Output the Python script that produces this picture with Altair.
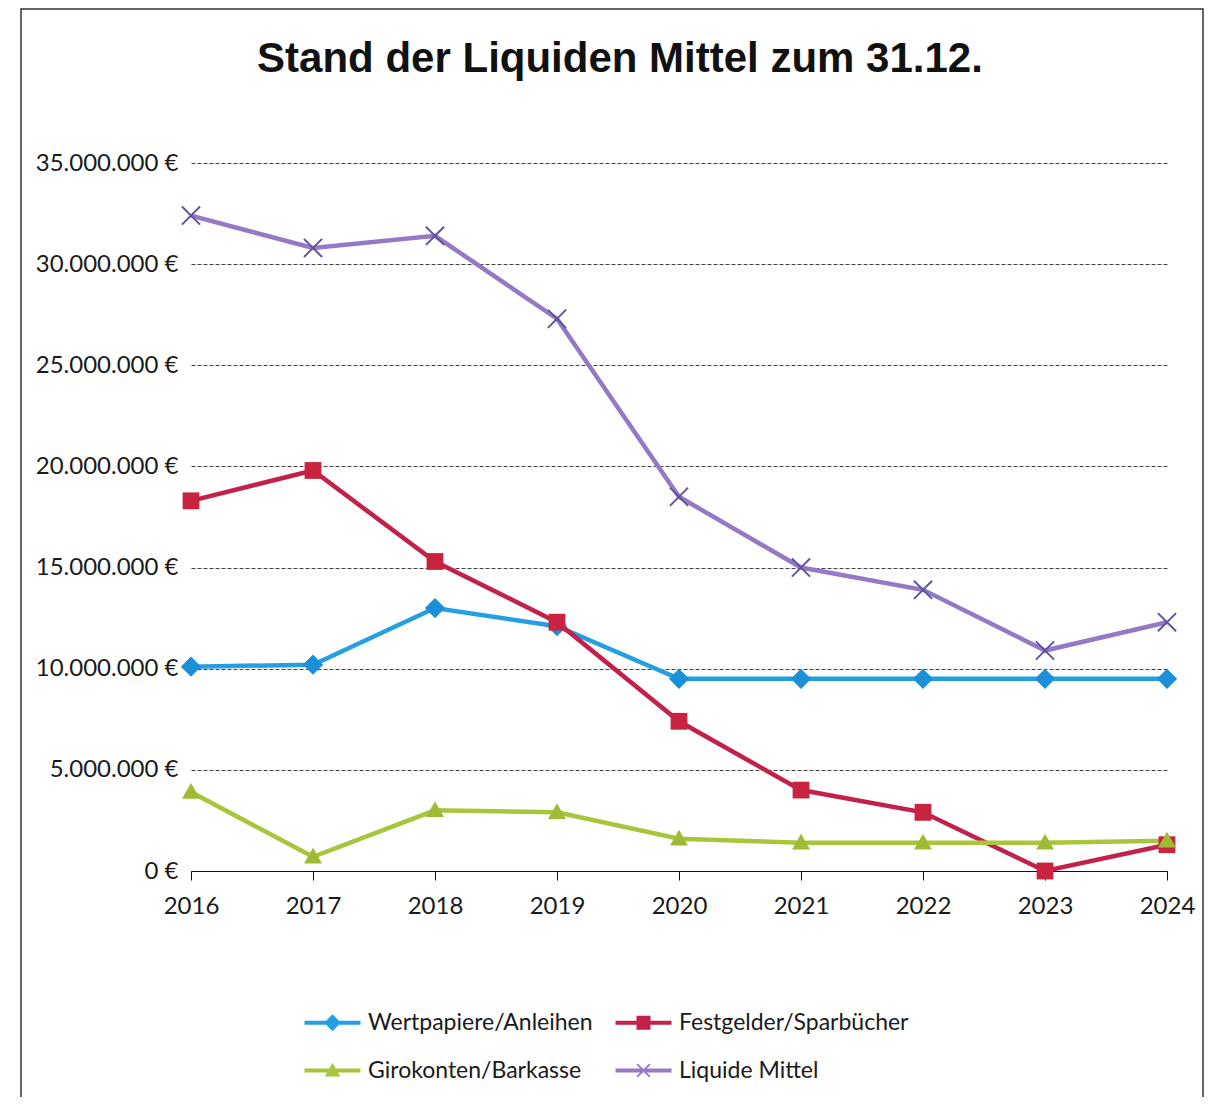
import altair as alt
import pandas as pd

years = [2016, 2017, 2018, 2019, 2020, 2021, 2022, 2023, 2024]
series = ["Wertpapiere/Anleihen", "Festgelder/Sparbücher", "Girokonten/Barkasse", "Liquide Mittel"]
wertpapiere = [10_100_000, 10_200_000, 13_000_000, 12_100_000, 9_500_000, 9_500_000, 9_500_000, 9_500_000, 9_500_000]
festgelder = [18_300_000, 19_800_000, 15_300_000, 12_300_000, 7_400_000, 4_000_000, 2_900_000, 0, 1_300_000]
girokonten = [3_900_000, 700_000, 3_000_000, 2_900_000, 1_600_000, 1_400_000, 1_400_000, 1_400_000, 1_500_000]
liquide = [32_400_000, 30_800_000, 31_400_000, 27_300_000, 18_500_000, 15_000_000, 13_900_000, 10_900_000, 12_300_000]
y_ticks = [0, 5_000_000, 10_000_000, 15_000_000, 20_000_000, 25_000_000, 30_000_000, 35_000_000]

line_colors = ["#24a0e2", "#c2214b", "#a9c53c", "#9479c6"]
marker_colors = ["#1b90d8", "#c8243f", "#9fbb35", "#5e519e"]

rows = []
for name, vals in zip(series, [wertpapiere, festgelder, girokonten, liquide]):
    for yr, v in zip(years, vals):
        rows.append({"Jahr": yr, "Reihe": name, "Wert": v})
df = pd.DataFrame(rows)

diamond = "M0,-1.2L1.2,0L0,1.2L-1.2,0Z"
square = "M-1,-1L1,-1L1,1L-1,1Z"
triangle = "M0,-1.1L1.1,0.85L-1.1,0.85Z"
cross_x = "M-1,-0.82L-0.82,-1L1,0.82L0.82,1Z M0.82,-1L1,-0.82L-0.82,1L-1,0.82Z"
chart_shapes = ["M0,-1.35L1.35,0L0,1.35L-1.35,0Z", "M-1.12,-1.12L1.12,-1.12L1.12,1.12L-1.12,1.12Z",
                "M0,-1.2L1.2,0.9L-1.2,0.9Z",
                "M-1.3,-1.12L-1.12,-1.3L1.3,1.12L1.12,1.3Z M1.12,-1.3L1.3,-1.12L-1.12,1.3L-1.3,1.12Z"]
bar = "M-4,-0.28L4,-0.28L4,0.28L-4,0.28Z"
legend_shapes = [bar + " " + m for m in [diamond, square, triangle, cross_x]]

x_enc = alt.X("Jahr:Q", scale=alt.Scale(domain=[years[0], years[-1]], nice=False, zero=False),
              axis=alt.Axis(title=None, values=years, format="d", labelAngle=0, domain=True,
                            domainColor="#111", domainWidth=1, ticks=True, tickColor="#111",
                            tickSize=9, grid=False, labelFlush=False,
                            labelFont="Lato", labelFontSize=24, labelColor="#1a1a1a", labelPadding=14))
y_enc = alt.Y("Wert:Q", scale=alt.Scale(domain=[0, 35_000_000], nice=False, zero=True),
              axis=alt.Axis(title=None, values=y_ticks, format="$,.0f", domain=False, ticks=False,
                            tickSize=0, grid=True, gridColor="#444", gridWidth=1, gridDash=[4, 2],
                            labelFont="Lato", labelFontSize=24, labelColor="#1a1a1a", labelPadding=13))

lines = alt.Chart(df).mark_line(strokeWidth=4.5).encode(
    x=x_enc, y=y_enc,
    color=alt.Color("Reihe:N", scale=alt.Scale(domain=series, range=line_colors), legend=None),
)

points = alt.Chart(df).mark_point(filled=True, size=225, opacity=1).encode(
    x=x_enc, y=y_enc,
    color=alt.Color("Reihe:N", scale=alt.Scale(domain=series, range=marker_colors), legend=None),
    shape=alt.Shape("Reihe:N", scale=alt.Scale(domain=series, range=chart_shapes), legend=None),
)

leg = alt.Legend(title=None, orient="none", legendX=130, legendY=848, columns=2, direction="horizontal",
                 columnPadding=22, rowPadding=24, labelOffset=24, symbolSize=196, labelLimit=500,
                 symbolOpacity=1, symbolStrokeWidth=0,
                 labelFont="Lato", labelFontSize=23, labelColor="#1a1a1a")
legend_layer = alt.Chart(df).mark_point(filled=True, size=196, opacity=0).encode(
    x=x_enc, y=y_enc,
    color=alt.Color("Reihe:N", scale=alt.Scale(domain=series, range=line_colors), legend=leg),
    shape=alt.Shape("Reihe:N", scale=alt.Scale(domain=series, range=legend_shapes), legend=leg),
)

frame = alt.Chart(pd.DataFrame({"f": [0]})).mark_rect(fillOpacity=0, stroke="#333", strokeWidth=1.5).encode(
    x=alt.value(-170), x2=alt.value(1012), y=alt.value(-154), y2=alt.value(960)
)

chart = alt.layer(frame, lines, points, legend_layer).resolve_scale(
    color="independent", shape="independent"
).properties(
    width=976, height=708,
    padding={"left": 183, "top": 155, "right": 38, "bottom": 226},
    autosize=alt.AutoSizeParams(type="none"),
    view=alt.ViewBackground(stroke="transparent", strokeWidth=0),
    title=alt.TitleParams(text="Stand der Liquiden Mittel zum 31.12.", font="Liberation Sans",
                          fontSize=42, fontWeight="bold", color="#111", anchor="middle",
                          frame="group", dx=-59, offset=-73),
).configure_view(stroke="transparent", strokeWidth=0).configure(
    locale={"number": {"decimal": ",", "thousands": ".", "grouping": [3], "currency": ["", " €"]}}
)

chart.save("out.html", embed_options={"renderer": "svg", "actions": False})
